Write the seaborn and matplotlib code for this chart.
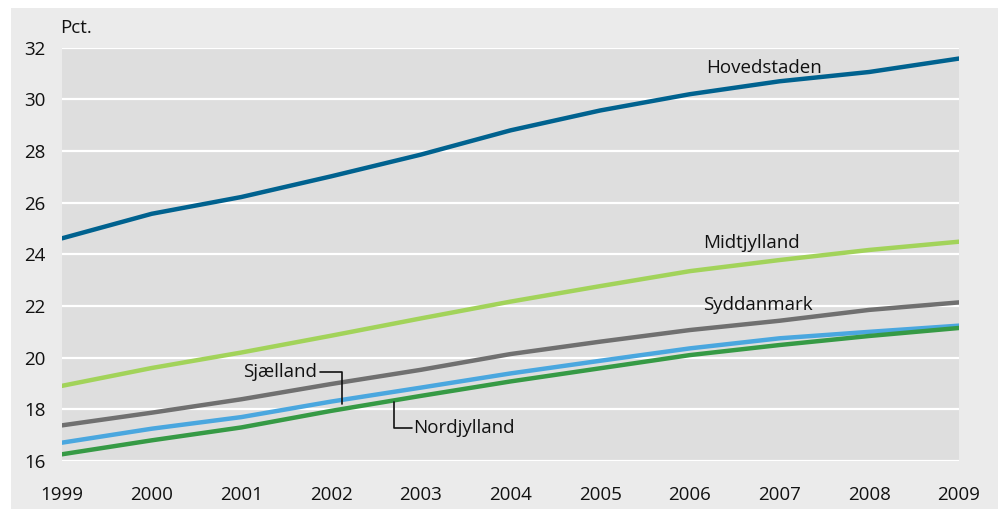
import pandas as pd
import matplotlib.pyplot as plt
import seaborn as sns
from matplotlib.patches import Rectangle

# values (pct.)
years = list(range(1999, 2010))
hovedstaden = [24.62, 25.57, 26.22, 27.02, 27.86, 28.8, 29.57, 30.2, 30.7, 31.06, 31.58]
midtjylland = [18.91, 19.6, 20.2, 20.85, 21.52, 22.17, 22.77, 23.35, 23.78, 24.17, 24.49]
syddanmark = [17.38, 17.87, 18.39, 18.98, 19.53, 20.14, 20.62, 21.07, 21.43, 21.85, 22.14]
sjaelland = [16.71, 17.25, 17.7, 18.3, 18.84, 19.39, 19.88, 20.36, 20.75, 21.0, 21.24]
nordjylland = [16.26, 16.8, 17.3, 17.94, 18.52, 19.08, 19.59, 20.1, 20.49, 20.84, 21.15]

regions = ["Hovedstaden", "Midtjylland", "Syddanmark", "Sjælland", "Nordjylland"]
colors = ["#00628f", "#a2d35a", "#707070", "#4aa7df", "#369a45"]
y_ticks = [16, 18, 20, 22, 24, 26, 28, 30, 32]

series = [hovedstaden, midtjylland, syddanmark, sjaelland, nordjylland]
df = pd.DataFrame({
    "year": years * len(regions),
    "value": [v for s in series for v in s],
    "region": [r for r in regions for _ in years],
})

sns.set_style("white", {"axes.facecolor": "#dedede"})
plt.rcParams["font.family"] = ["Liberation Sans Narrow", "Open Sans", "DejaVu Sans"]

fig = plt.figure(figsize=(9.98, 5.09), dpi=100)
fig.patch.set_facecolor("white")
# light grey panel behind the chart
fig.patches.append(Rectangle((11 / 998, 0), 1 - 11 / 998, 1 - 8 / 509,
                             transform=fig.transFigure, facecolor="#ebebeb",
                             edgecolor="none", zorder=-5))

ax = fig.add_axes([62 / 998, 1 - 461 / 509, (959 - 62) / 998, (461 - 47.7) / 509])
ax.set_zorder(2)
sns.lineplot(data=df, x="year", y="value", hue="region", hue_order=regions,
             palette=colors, linewidth=3.2, legend=False, ax=ax)

ax.set_xlim(1999, 2009)
ax.set_ylim(16, 32)
ax.set_xticks(years)
ax.set_yticks(y_ticks)
ax.set_xlabel("")
ax.set_ylabel("")
ax.grid(axis="y", color="white", linewidth=1.6)
ax.set_axisbelow(True)
for s in ax.spines.values():
    s.set_visible(False)
ax.tick_params(axis="both", length=0, labelsize=13.5, colors="#111111")
ax.tick_params(axis="x", pad=18)
ax.tick_params(axis="y", pad=12)

ax.text(-0.002, 1.048, "Pct.", transform=ax.transAxes, fontsize=13.5,
        ha="left", va="center", color="#111111")

lab = dict(fontsize=13.5, color="#111111", va="center")
ax.text(2006.18, 31.2, "Hovedstaden", ha="left", **lab)
ax.text(2006.15, 24.43, "Midtjylland", ha="left", **lab)
ax.text(2006.15, 22.02, "Syddanmark", ha="left", **lab)
ax.text(2001.84, 19.43, "Sjælland", ha="right", **lab)
ax.text(2002.92, 17.27, "Nordjylland", ha="left", **lab)

# leader lines
ax.plot([2001.88, 2002.12, 2002.12], [19.43, 19.43, 18.22], color="#111111", lw=1.2)
ax.plot([2002.70, 2002.70, 2002.90], [18.29, 17.27, 17.27], color="#111111", lw=1.2)

fig.savefig("out.png", dpi=100)
